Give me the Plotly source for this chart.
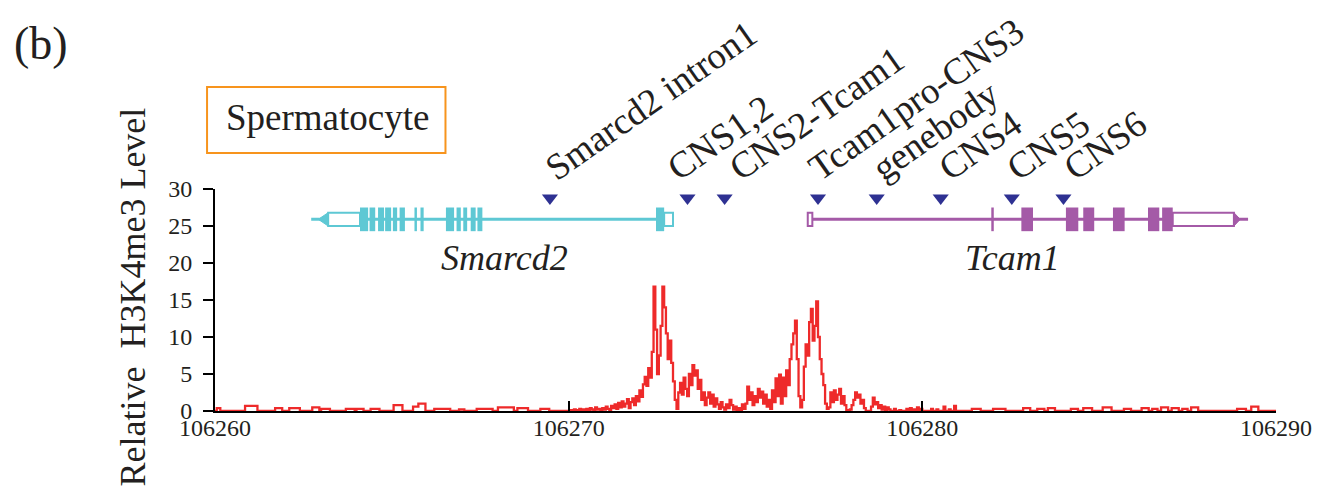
import numpy as np
import plotly.graph_objects as go

# ---------------- data ----------------
# genomic axis (kb)
x_ticks = [106260, 106270, 106280, 106290]
x_tick_labels = ["106260", "106270", "106280", "106290"]
y_ticks = [0, 5, 10, 15, 20, 25, 30]

# H3K4me3 signal in 50 bp bins over the active region (from 106270.00 kb)
BIN_KB = 0.05
peak_start = 106270.0
peak_signal = [
    0, 0.1, 0, 0.2, 0.1, 0, 0.3, 0.1, 0.2, 0,
    0.3, 0.1, 0.4, 0.2, 0.1, 0.5, 0.2, 0.3, 0.1, 0.4,
    0.2, 0.6, 0.3, 0.1, 0.7, 0.4, 0.9, 0.3, 1.1, 0.5,
    1.3, 0.6, 1.0, 1.6, 0.4, 1.2, 1.7, 0.8, 2.0, 1.3,
    2.8, 1.9, 3.6, 4.6, 3.4, 5.8, 4.5, 8.0, 16.8, 11.0,
    5.0, 7.5, 11.5, 16.8, 14.0, 10.5, 7.0, 9.5, 6.5, 4.0,
    1.5, 0.3, 2.5, 3.8, 2.2, 4.5, 3.0, 2.0, 5.0, 3.5,
    6.2, 4.8, 5.5, 3.0, 4.2, 1.5, 2.5, 0.8, 1.8, 2.5,
    1.0, 2.2, 0.6, 1.7, 0.9, 0.3, 1.2, 0.5, 0.2, 0.9,
    0.4, 1.5, 0.8, 0.2, 0.6, 0.1, 0.4, 0, 0.9, 0.3,
    1.0, 3.3, 1.5, 2.5, 0.8, 2.0, 1.2, 3.0, 1.8, 2.6,
    1.0, 2.2, 0.6, 1.5, 0.3, 2.8, 1.2, 4.4, 2.0, 4.9,
    1.0, 4.5, 2.0, 5.5, 3.5, 7.0, 9.0, 10.5, 12.2, 7.0,
    2.0, 0.5, 1.5, 6.0, 9.0, 7.5, 12.0, 13.8, 9.5, 11.5,
    14.8, 10.0, 7.0, 5.0, 3.5, 1.0, 0.3, 0.5, 2.5, 1.2,
    2.8, 1.5, 2.2, 3.0, 1.0, 2.0, 0.8, 0.1, 0, 0.2,
    0.8, 1.5, 2.5, 1.8, 2.2, 1.0, 1.5, 0.4, 0, 0,
    0, 0.6, 1.8, 0.9, 1.2, 0.4, 0.8, 0.2, 0.6, 0.1,
    0.5, 0.2, 0, 0, 0.3, 0, 0, 0.1, 0, 0,
    0, 0.3, 0, 0.4, 0, 0.2, 0, 0.5, 0, 0.3,
    0, 0, 0, 0, 0, 0.3, 0, 0, 0.2, 0,
    0, 0, 0.6, 0, 0, 0.2, 0, 0, 0.7, 0,
]

# sparse low-level reads outside the active region
blip_start = [106260.02, 106260.84, 106261.66, 106262.10, 106262.75, 106263.00,
              106263.70, 106264.00, 106264.40, 106265.05, 106265.60, 106265.75,
              106266.20, 106266.90, 106267.40, 106268.00, 106268.55, 106269.20,
              106281.40, 106282.00, 106282.85, 106283.25, 106283.55, 106284.20,
              106284.55, 106285.10, 106285.70, 106286.20, 106286.50, 106286.75,
              106287.05, 106287.35, 106287.60, 106288.90, 106289.30]
blip_end = [106260.10, 106261.15, 106261.85, 106262.36, 106262.90, 106263.20,
            106263.90, 106264.15, 106264.60, 106265.25, 106265.75, 106265.90,
            106266.60, 106267.00, 106267.80, 106268.40, 106268.80, 106269.40,
            106281.60, 106282.30, 106283.00, 106283.40, 106283.70, 106284.35,
            106284.75, 106285.30, 106285.85, 106286.35, 106286.60, 106286.90,
            106287.20, 106287.45, 106287.75, 106289.10, 106289.45]
blip_level = [0.4, 0.7, 0.4, 0.4, 0.5, 0.3,
              0.3, 0.3, 0.3, 0.8, 0.6, 1.0,
              0.3, 0.2, 0.3, 0.5, 0.4, 0.3,
              0.3, 0.3, 0.4, 0.3, 0.4, 0.3,
              0.4, 0.5, 0.3, 0.4, 0.3, 0.5,
              0.4, 0.3, 0.5, 0.3, 0.6]

# gene models (kb)
smarcd2_exon_start = [106264.10, 106264.37, 106264.61, 106264.81, 106265.03, 106265.22, 106265.64,
                      106265.81, 106266.53, 106266.83, 106267.02, 106267.23, 106267.42, 106272.47]
smarcd2_exon_end = [106264.33, 106264.53, 106264.78, 106264.98, 106265.15, 106265.37, 106265.71,
                    106265.90, 106266.76, 106266.95, 106267.13, 106267.37, 106267.56, 106272.70]
smarcd2_utr_start = [106263.20, 106272.70]
smarcd2_utr_end = [106264.10, 106272.95]
smarcd2_tail = [106262.72, 106262.92]   # tail end, arrow tip (pointing left)

tcam1_exon_start = [106281.95, 106282.80, 106284.06, 106284.55, 106285.39, 106286.38, 106286.78]
tcam1_exon_end = [106282.02, 106283.13, 106284.41, 106284.86, 106285.72, 106286.70, 106287.08]
tcam1_utr_start = [106276.76, 106287.08]
tcam1_utr_end = [106276.89, 106288.81]
tcam1_tail = [106289.21, 106288.99]     # tail end, arrow tip (pointing right)

# conserved / tested elements
cns_labels = ["Smarcd2 intron1", "CNS1,2", "CNS2-Tcam1", "Tcam1pro-CNS3",
              "genebody", "CNS4", "CNS5", "CNS6"]
cns_pos = [106269.47, 106273.36, 106274.41, 106277.05,
           106278.71, 106280.52, 106282.53, 106283.99]

# ---------------- layout constants ----------------
W, H = 1324, 493
ML, MR, MT, MB = 215, 41, 189, 82
PW, PH = W - ML - MR, H - MT - MB
FONT = "Liberation Serif, Times New Roman, serif"
TXT = "#231f20"
CYAN = "#5ec8d4"
PURPLE = "#a45aa7"
NAVY = "#2e3192"
RED = "#ee2a2a"
ORANGE = "#f7941d"

GENE_Y = 25.9
EXON_H = 1.6
UTR_H = 0.9
MARK_Y = 28.8
label_nudge = [-5, -20, 4, -10, -5, -2, -5, 0]


def fx(px):
    return (px - ML) / PW


def fy(py):
    return (H - MB - py) / PH


# ---------------- signal ----------------
xs = np.round(np.arange(x_ticks[0], x_ticks[-1] + 1e-9, BIN_KB), 3)
ys = np.zeros_like(xs)
for s, e, v in zip(blip_start, blip_end, blip_level):
    ys[(xs >= s - 1e-6) & (xs <= e + 1e-6)] = v
i0 = int(round((peak_start - x_ticks[0]) / BIN_KB))
ys[i0:i0 + len(peak_signal)] = peak_signal

fig = go.Figure()
fig.add_trace(go.Scatter(x=xs, y=ys, mode="lines", line_shape="hv",
                         line=dict(color=RED, width=2.3), hoverinfo="skip"))

fig.add_trace(go.Scatter(x=cns_pos, y=[MARK_Y] * len(cns_pos), mode="markers",
                         marker=dict(symbol="triangle-down", size=14, color=NAVY),
                         hoverinfo="skip"))

# ---------------- gene models ----------------
shapes = []


def gene(color, line_from, line_to, utr_s, utr_e, ex_s, ex_e, tip, base):
    shapes.append(dict(type="line", xref="x", yref="y", x0=line_from, x1=line_to,
                       y0=GENE_Y, y1=GENE_Y, line=dict(color=color, width=3)))
    for a, b in zip(utr_s, utr_e):
        shapes.append(dict(type="rect", xref="x", yref="y", x0=a, x1=b,
                           y0=GENE_Y - UTR_H, y1=GENE_Y + UTR_H,
                           fillcolor="white", line=dict(color=color, width=2)))
    shapes.append(dict(type="path", xref="x", yref="y",
                       path=f"M {base},{GENE_Y - UTR_H} L {tip},{GENE_Y} L {base},{GENE_Y + UTR_H} Z",
                       fillcolor=color, line=dict(color=color, width=1)))
    for a, b in zip(ex_s, ex_e):
        shapes.append(dict(type="rect", xref="x", yref="y", x0=a, x1=b,
                           y0=GENE_Y - EXON_H, y1=GENE_Y + EXON_H,
                           fillcolor=color, line=dict(width=0)))


gene(CYAN, smarcd2_tail[0], smarcd2_utr_end[-1], smarcd2_utr_start, smarcd2_utr_end,
     smarcd2_exon_start, smarcd2_exon_end, smarcd2_tail[1], smarcd2_utr_start[0])
gene(PURPLE, tcam1_utr_start[0], tcam1_tail[0], tcam1_utr_start, tcam1_utr_end,
     tcam1_exon_start, tcam1_exon_end, tcam1_tail[1], tcam1_utr_end[-1])

# cell-type box
shapes.append(dict(type="rect", xref="paper", yref="paper",
                   x0=fx(207), x1=fx(447), y0=fy(153), y1=fy(87),
                   line=dict(color=ORANGE, width=2), fillcolor="rgba(0,0,0,0)"))

# ---------------- annotations ----------------
def text_at(text, px, py, size, angle=0):
    return dict(text=text, xref="paper", yref="paper", x=fx(px), y=fy(py),
                xanchor="center", yanchor="middle", textangle=angle, showarrow=False,
                font=dict(family=FONT, size=size, color=TXT))


ann = [
    text_at("(b)", 40, 43, 46),
    text_at("Spermatocyte", 328, 118, 37),
    text_at("Relative\u00a0\u00a0H3K4me3 Level", 132, 297, 36, -90),
    text_at("<i>Smarcd2</i>", 506, 258, 36),
    text_at("<i>Tcam1</i>", 1018, 258, 36),
]
for lab, pos, nud in zip(cns_labels, cns_pos, label_nudge):
    ann.append(dict(text=lab, xref="x", yref="paper", x=pos, y=fy(191),
                    xanchor="left", yanchor="bottom", textangle=-35, xshift=nud - 10,
                    showarrow=False, font=dict(family=FONT, size=37, color=TXT)))

axis_common = dict(showgrid=False, zeroline=False, showline=True, linecolor="black",
                   linewidth=2, tickcolor="black", tickwidth=2, ticklen=10,
                   tickfont=dict(family=FONT, size=24, color=TXT))

fig.update_layout(
    width=W, height=H,
    margin=dict(l=ML, r=MR, t=MT, b=MB, pad=0),
    paper_bgcolor="white", plot_bgcolor="white",
    showlegend=False,
    shapes=shapes, annotations=ann,
    xaxis=dict(range=[x_ticks[0], x_ticks[-1]], tickvals=x_ticks, ticktext=x_tick_labels,
               ticks="inside", ticklabelstandoff=-6, **axis_common),
    yaxis=dict(range=[0, 30], tickvals=y_ticks, ticks="outside", ticklabelstandoff=6,
               **axis_common),
)

fig.write_html("out.html")
